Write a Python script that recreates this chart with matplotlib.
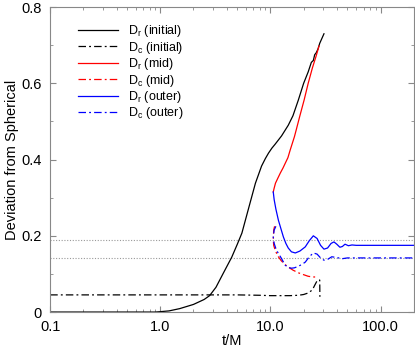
import matplotlib
matplotlib.use("Agg")
import matplotlib.pyplot as plt
from matplotlib.ticker import FixedLocator, NullFormatter, FixedFormatter

plt.rcParams['font.family'] = ['Liberation Sans', 'DejaVu Sans']

# ---- data ----
t_dr_init = [0.1, 0.5, 0.9, 1.0, 1.2, 1.5, 2.0, 2.5, 2.8, 3.2, 3.7, 4.45, 5.0, 5.5, 6.3, 7.3, 8.3,
             9.0, 9.6, 10.3, 11.0, 12.6, 14.5, 16.0, 17.9, 20.0, 22.0, 23.5, 24.5, 25.2, 26.0,
             27.0, 28.0, 30.6]
y_dr_init = [0.0, 0.0, 0.0, 0.001, 0.003, 0.009, 0.02, 0.033, 0.043, 0.065, 0.1, 0.144, 0.178,
             0.207, 0.27, 0.338, 0.383, 0.403, 0.417, 0.43, 0.44, 0.462, 0.49, 0.515, 0.556, 0.6,
             0.63, 0.655, 0.66, 0.675, 0.68, 0.69, 0.705, 0.73]

t_dc_init = [0.1, 1.0, 5.0, 8.0, 10.0, 12.0, 15.0, 18.0, 20.0, 22.0, 24.0, 25.4, 26.5, 27.5, 28.0, 28.1]
y_dc_init = [0.045, 0.045, 0.045, 0.044, 0.043, 0.043, 0.043, 0.044, 0.046, 0.05, 0.058, 0.072,
             0.082, 0.085, 0.084, 0.04]

t_dr_mid = [10.6, 10.8, 11.1, 11.7, 12.3, 13.0, 13.6, 14.4, 15.1, 16.5, 17.1, 18.5, 20.2, 22.0,
            24.0, 26.0, 27.6]
y_dr_mid = [0.315, 0.325, 0.338, 0.352, 0.365, 0.378, 0.39, 0.405, 0.425, 0.46, 0.477, 0.515,
            0.556, 0.6, 0.64, 0.672, 0.698]

t_dc_mid = [10.9, 10.7, 10.6, 10.7, 11.1, 11.8, 12.5, 13.5, 14.5, 16.0, 17.9, 20.0, 21.9, 24.0, 27.0]
y_dc_mid = [0.225, 0.215, 0.19, 0.175, 0.16, 0.145, 0.135, 0.125, 0.118, 0.11, 0.103, 0.098,
            0.094, 0.092, 0.092]

t_dr_out = [10.6, 10.8, 11.2, 11.8, 12.4, 13.1, 13.8, 14.5, 15.5, 16.8, 18.5, 20.7, 22.5, 24.5,
            26.5, 28.5, 30.6, 33.0, 35.5, 37.7, 40.0, 42.7, 45.0, 47.5, 51.0, 55.0, 60.0, 70.0,
            100.0, 200.0]
y_dr_out = [0.315, 0.295, 0.27, 0.241, 0.22, 0.197, 0.18, 0.168, 0.158, 0.155, 0.16, 0.171,
            0.187, 0.2, 0.193, 0.175, 0.165, 0.168, 0.18, 0.184, 0.178, 0.17, 0.172, 0.178,
            0.174, 0.176, 0.175, 0.175, 0.175, 0.175]

t_dc_out = [11.2, 10.8, 10.6, 10.8, 11.3, 11.9, 12.5, 13.6, 14.5, 15.5, 16.5, 17.9, 19.3, 20.7,
            22.5, 24.5, 26.5, 28.5, 30.6, 33.0, 36.0, 40.0, 45.0, 50.0, 60.0, 100.0, 200.0]
y_dc_out = [0.225, 0.215, 0.197, 0.18, 0.163, 0.152, 0.142, 0.123, 0.117, 0.115, 0.116, 0.12,
            0.125, 0.131, 0.145, 0.155, 0.152, 0.142, 0.136, 0.138, 0.145, 0.143, 0.14, 0.142,
            0.142, 0.142, 0.142]

ref_levels = [0.19, 0.142]

x_ticks = [0.1, 1.0, 10.0, 100.0]
x_ticklabels = ["0.1", "1.0", "10.0", "100.0"]
y_ticks = [0.0, 0.2, 0.4, 0.6, 0.8]
y_ticklabels = ["0", "0.2", "0.4", "0.6", "0.8"]

# ---- figure ----
fig = plt.figure(figsize=(4.15, 3.55), dpi=100)
ax = fig.add_axes([0.121, 0.121, 0.876, 0.859])

dd = (6, 2.5, 1.5, 2.5)
lw = 0.9
for lev in ref_levels:
    ax.axhline(lev, color='#999999', lw=0.8, ls=(0, (1, 1.5)), zorder=1)

ax.plot(t_dr_init, y_dr_init, color='black', lw=lw, label=r'D$_\mathregular{r}$ (initial)')
ax.plot(t_dc_init, y_dc_init, color='black', lw=lw, dashes=dd, label=r'D$_\mathregular{c}$ (initial)')
ax.plot(t_dr_mid, y_dr_mid, color='red', lw=lw, label=r'D$_\mathregular{r}$ (mid)')
ax.plot(t_dc_mid, y_dc_mid, color='red', lw=lw, dashes=dd, label=r'D$_\mathregular{c}$ (mid)')
ax.plot(t_dr_out, y_dr_out, color='blue', lw=lw, label=r'D$_\mathregular{r}$ (outer)')
ax.plot(t_dc_out, y_dc_out, color='blue', lw=lw, dashes=dd, label=r'D$_\mathregular{c}$ (outer)')

ax.set_xscale('log')
ax.set_xlim(0.1, 200)
ax.set_ylim(0, 0.8)
ax.xaxis.set_major_locator(FixedLocator(x_ticks))
ax.xaxis.set_major_formatter(FixedFormatter(x_ticklabels))
ax.xaxis.set_minor_formatter(NullFormatter())
ax.yaxis.set_major_locator(FixedLocator(y_ticks))
ax.yaxis.set_major_formatter(FixedFormatter(y_ticklabels))
ax.yaxis.set_minor_locator(FixedLocator([0.1, 0.3, 0.5, 0.7]))

for s in ax.spines.values():
    s.set_color('#888888')
    s.set_linewidth(0.8)
ax.tick_params(which='both', direction='in', top=True, right=True, color='#888888',
               labelsize=10.5, labelcolor='black')
ax.tick_params(which='major', length=4)
ax.tick_params(which='minor', length=2.5)
ax.tick_params(axis='x', which='major', pad=6)
ax.tick_params(axis='y', which='major', pad=6)

ax.set_xlabel('t/M', fontsize=10.5, labelpad=0)
ax.set_ylabel('Deviation from Spherical', fontsize=10.5, labelpad=2)

leg = ax.legend(loc='upper left', bbox_to_anchor=(0.052, 0.975), frameon=False, fontsize=9,
                handlelength=3.2, handletextpad=0.8, labelspacing=0.03, borderaxespad=0.3)

fig.savefig('out.png', dpi=100)
